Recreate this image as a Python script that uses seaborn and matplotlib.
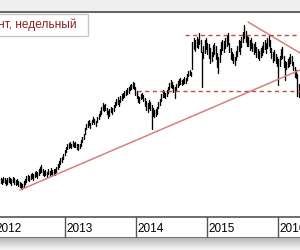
import numpy as np
import pandas as pd
import seaborn as sns
import matplotlib.pyplot as plt
from matplotlib.patches import Rectangle

# weekly bars (high / low), first bar week
week_start = '2012-02-03'
highs = [46, 45, 47, 46, 44, 46, 47, 46, 45, 47,
         46, 44, 45, 43, 42, 41, 40, 43, 45, 48,
         49, 48, 50, 51, 50, 52, 53, 52, 55, 57,
         59, 55, 53, 54, 52, 55, 53, 56, 54, 55,
         55, 57, 60, 63, 66, 67, 70, 74, 77, 80,
         81, 82, 80, 83, 81, 82, 80, 80, 80, 84,
         87, 90, 96, 100, 103, 104, 101, 104, 107, 105,
         103, 107, 110, 113, 117, 121, 119, 120, 116, 113,
         115, 117, 116, 119, 122, 125, 127, 124, 128, 130,
         131, 133, 134, 136, 137, 139, 140, 142, 141, 137,
         133, 128, 127, 130, 131, 129, 126, 123, 121, 124,
         122, 119, 116, 114, 115, 117, 122, 125, 130, 134,
         133, 131, 134, 137, 141, 144, 142, 139, 137, 140,
         143, 145, 146, 144, 145, 147, 146, 150, 153, 154,
         152, 182, 186, 184, 187, 185, 191, 184, 172, 178,
         184, 186, 181, 180, 176, 172, 179, 181, 178, 171,
         167, 175, 182, 184, 183, 186, 189, 191, 181, 176,
         172, 170, 167, 173, 178, 184, 183, 187, 192, 199,
         193, 189, 187, 184, 186, 181, 180, 182, 177, 175,
         173, 176, 178, 182, 184, 181, 186, 189, 184, 176,
         172, 174, 170, 167, 165, 168, 175, 177, 168, 163,
         162, 165, 167, 170, 168, 162, 157, 154, 150, 140]
lows = [41, 40, 42, 41, 39, 40, 42, 41, 39, 42,
        40, 39, 40, 38, 37, 36, 35, 37, 40, 42,
        44, 43, 45, 46, 44, 47, 48, 46, 49, 51,
        52, 49, 48, 49, 47, 50, 48, 50, 49, 50,
        49, 52, 55, 57, 60, 62, 65, 69, 72, 75,
        76, 77, 76, 78, 77, 77, 75, 74, 76, 78,
        82, 85, 90, 95, 97, 99, 96, 100, 102, 100,
        98, 102, 105, 108, 110, 114, 113, 114, 110, 106,
        108, 112, 110, 113, 117, 119, 120, 118, 122, 124,
        126, 127, 129, 130, 131, 134, 135, 136, 135, 129,
        126, 122, 121, 125, 126, 123, 118, 114, 112, 116,
        114, 95, 108, 107, 108, 110, 116, 119, 123, 127,
        127, 126, 128, 131, 135, 137, 136, 132, 126, 133,
        137, 139, 140, 139, 140, 141, 141, 144, 148, 149,
        148, 155, 175, 173, 177, 176, 180, 172, 137, 166,
        171, 175, 170, 166, 161, 163, 168, 170, 165, 157,
        151, 162, 170, 174, 172, 176, 178, 180, 172, 165,
        164, 161, 159, 164, 168, 173, 170, 177, 182, 186,
        182, 178, 178, 174, 176, 173, 170, 172, 167, 166,
        164, 167, 169, 172, 175, 171, 176, 178, 172, 166,
        162, 164, 161, 158, 139, 158, 165, 166, 157, 144,
        155, 157, 158, 161, 159, 154, 147, 146, 128, 127]

years = ['2012', '2013', '2014', '2015', '2016']
title_text = 'нт, недельный'

# trend lines and levels
support_dates = ['2012-05-13', '2016-04-22']
support_prices = [34, 154]
resist_dates = ['2015-07-30', '2016-04-22']
resist_prices = [202, 171]
upper_level = 189
upper_from = '2014-09-08'
lower_level = 133
lower_from = '2014-01-05'

x_left = pd.Timestamp('2012-01-31')
x_right = pd.Timestamp('2016-04-22')

dates = pd.date_range(week_start, periods=len(highs), freq='7D')
bars = pd.DataFrame({
    'date': list(dates) * 2,
    'price': highs + lows,
    'week': list(range(len(highs))) * 2,
})

sns.set_style('white')
plt.rcParams['font.family'] = ['Liberation Sans', 'DejaVu Sans']

fig = plt.figure(figsize=(3, 2.5), dpi=100)
fig.patch.set_facecolor('white')

# light strip at the very top
fig.patches.append(Rectangle((0, 239 / 250), 1, 11 / 250, transform=fig.transFigure,
                             facecolor='#efefef', edgecolor='none', zorder=0))

# main price panel
ax = fig.add_axes([0, 33 / 250, 1, 206 / 250])
sns.lineplot(data=bars, x='date', y='price', units='week', estimator=None,
             color='black', lw=0.95, ax=ax, legend=False)

sup = pd.DataFrame({'date': pd.to_datetime(support_dates), 'price': support_prices})
res = pd.DataFrame({'date': pd.to_datetime(resist_dates), 'price': resist_prices})
sns.lineplot(data=sup, x='date', y='price', color='#d6827c', lw=1.1, ax=ax)
sns.lineplot(data=res, x='date', y='price', color='#d6827c', lw=1.1, ax=ax)

ax.plot([pd.Timestamp(upper_from), x_right], [upper_level, upper_level],
        color='#c04a4a', lw=1, linestyle=(0, (3, 2.5)))
ax.plot([pd.Timestamp(lower_from), x_right], [lower_level, lower_level],
        color='#c04a4a', lw=1, linestyle=(0, (3, 2.5)))

ax.set_xlim(x_left, x_right)
ax.set_ylim(7, 213)
ax.set_xticks([])
ax.set_yticks([])
ax.set_xlabel('')
ax.set_ylabel('')
for s in ['left', 'right', 'bottom']:
    ax.spines[s].set_visible(False)
ax.spines['top'].set_color('#666666')
ax.spines['top'].set_linewidth(2.2)

# year band
ax2 = fig.add_axes([0, 12 / 250, 1, 21 / 250])
ax2.set_xlim(x_left, x_right)
ax2.set_ylim(0, 1)
ax2.set_xticks([])
ax2.set_yticks([])
for s in ['left', 'right']:
    ax2.spines[s].set_visible(False)
for s in ['top', 'bottom']:
    ax2.spines[s].set_color('#555555')
    ax2.spines[s].set_linewidth(1.2)
for yr in years:
    start = pd.Timestamp(f'{yr}-01-01')
    ax2.axvline(start, color='#555555', lw=1)
    ax2.text(start + pd.Timedelta(days=8), 0.42, yr, ha='left', va='center',
             fontsize=8.5, color='black')

# shadow under the band
ax3 = fig.add_axes([0, 0, 1, 12 / 250])
grad = np.linspace(0.72, 0.97, 20).reshape(-1, 1)
ax3.imshow(grad, aspect='auto', cmap='gray', vmin=0, vmax=1)
ax3.axis('off')

# caption box
fig.patches.append(Rectangle((-0.01, 214 / 250), 91 / 300, 22 / 250,
                             transform=fig.transFigure, facecolor='white',
                             edgecolor='#c8c8c8', lw=1, zorder=5))
fig.text(-2 / 300, 225 / 250, title_text, ha='left', va='center',
         fontsize=8.6, color='#8b2323', zorder=6)

fig.savefig('out.png', dpi=100)
